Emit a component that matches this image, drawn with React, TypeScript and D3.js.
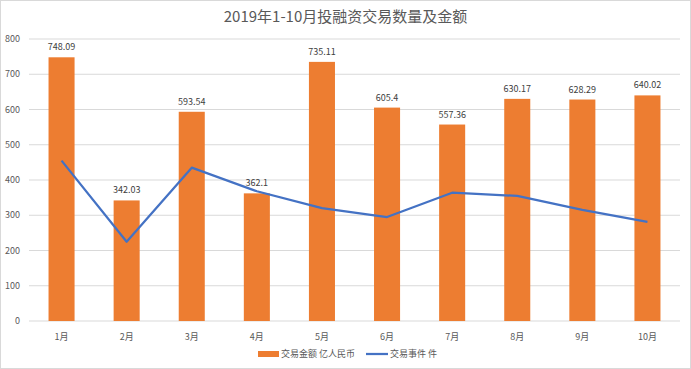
import React, { useRef, useEffect } from 'react';
import * as d3 from 'd3';

const months = ['1月', '2月', '3月', '4月', '5月', '6月', '7月', '8月', '9月', '10月'];
const amounts = [748.09, 342.03, 593.54, 362.1, 735.11, 605.4, 557.36, 630.17, 628.29, 640.02];
const deals = [455, 225, 435, 368, 320, 295, 364, 355, 315, 281];
const yTicks = [0, 100, 200, 300, 400, 500, 600, 700, 800];

const W = 691;
const H = 369;
const FONT = '"Noto Sans CJK SC", "Noto Sans", sans-serif';

const App = () => {
  const svgRef = useRef<SVGSVGElement>(null);

  useEffect(() => {
    const svg = d3.select(svgRef.current);
    svg.selectAll('*').remove();

    const margin = { top: 39, right: 11, bottom: 48, left: 29 };
    const x = d3.scaleBand().domain(months).range([margin.left, W - margin.right]).paddingInner(0.6).paddingOuter(0.3);
    const y = d3.scaleLinear().domain([0, 800]).range([H - margin.bottom, margin.top]);

    svg.append('rect')
      .attr('x', 0.5).attr('y', 0.5).attr('width', W - 1).attr('height', H - 1)
      .attr('fill', '#fff').attr('stroke', '#d9d9d9');

    svg.append('text')
      .attr('x', W / 2).attr('y', 22)
      .attr('text-anchor', 'middle')
      .attr('font-size', 15).attr('fill', '#595959')
      .attr('font-family', FONT)
      .text('2019年1-10月投融资交易数量及金额');

    // grid + y labels
    const grid = svg.append('g');
    grid.selectAll('line')
      .data(yTicks)
      .enter().append('line')
      .attr('x1', margin.left).attr('x2', W - margin.right)
      .attr('y1', d => y(d)).attr('y2', d => y(d))
      .attr('stroke', '#d9d9d9').attr('stroke-width', 1);
    grid.selectAll('text')
      .data(yTicks)
      .enter().append('text')
      .attr('x', 20).attr('y', d => y(d))
      .attr('dy', '0.35em')
      .attr('text-anchor', 'end')
      .attr('font-size', 9).attr('fill', '#595959')
      .attr('font-family', FONT)
      .text(d => d);

    // bars
    svg.append('g')
      .selectAll('rect')
      .data(amounts)
      .enter().append('rect')
      .attr('x', (d, i) => x(months[i])!)
      .attr('y', d => y(d))
      .attr('width', x.bandwidth())
      .attr('height', d => y(0) - y(d))
      .attr('fill', '#ED7D31');

    svg.append('g')
      .selectAll('text')
      .data(amounts)
      .enter().append('text')
      .attr('x', (d, i) => x(months[i])! + x.bandwidth() / 2)
      .attr('y', d => y(d) - 7)
      .attr('text-anchor', 'middle')
      .attr('font-size', 9).attr('fill', '#404040')
      .attr('font-family', FONT)
      .text(d => String(d));

    // line
    const line = d3.line<number>()
      .x((d, i) => x(months[i])! + x.bandwidth() / 2)
      .y(d => y(d));
    svg.append('path')
      .datum(deals)
      .attr('d', line)
      .attr('fill', 'none')
      .attr('stroke', '#4472C4')
      .attr('stroke-width', 2.25)
      .attr('stroke-linejoin', 'round');

    // x labels
    svg.append('g')
      .selectAll('text')
      .data(months)
      .enter().append('text')
      .attr('x', d => x(d)! + x.bandwidth() / 2)
      .attr('y', y(0) + 19)
      .attr('text-anchor', 'middle')
      .attr('font-size', 9).attr('fill', '#595959')
      .attr('font-family', FONT)
      .text(d => d);

    // legend
    const lg = svg.append('g').attr('font-family', FONT).attr('font-size', 9).attr('fill', '#595959');
    lg.append('rect').attr('x', 258).attr('y', 351).attr('width', 21).attr('height', 6).attr('fill', '#ED7D31');
    lg.append('text').attr('x', 281).attr('y', 354).attr('dy', '0.35em').text('交易金额 亿人民币');
    lg.append('line').attr('x1', 366).attr('x2', 388).attr('y1', 354).attr('y2', 354)
      .attr('stroke', '#4472C4').attr('stroke-width', 2.25);
    lg.append('text').attr('x', 390).attr('y', 354).attr('dy', '0.35em').text('交易事件 件');
  }, []);

  return (
    <svg ref={svgRef} width={W} height={H} style={{ position: 'absolute', left: 0, top: 0 }} />
  );
};

export default App;
